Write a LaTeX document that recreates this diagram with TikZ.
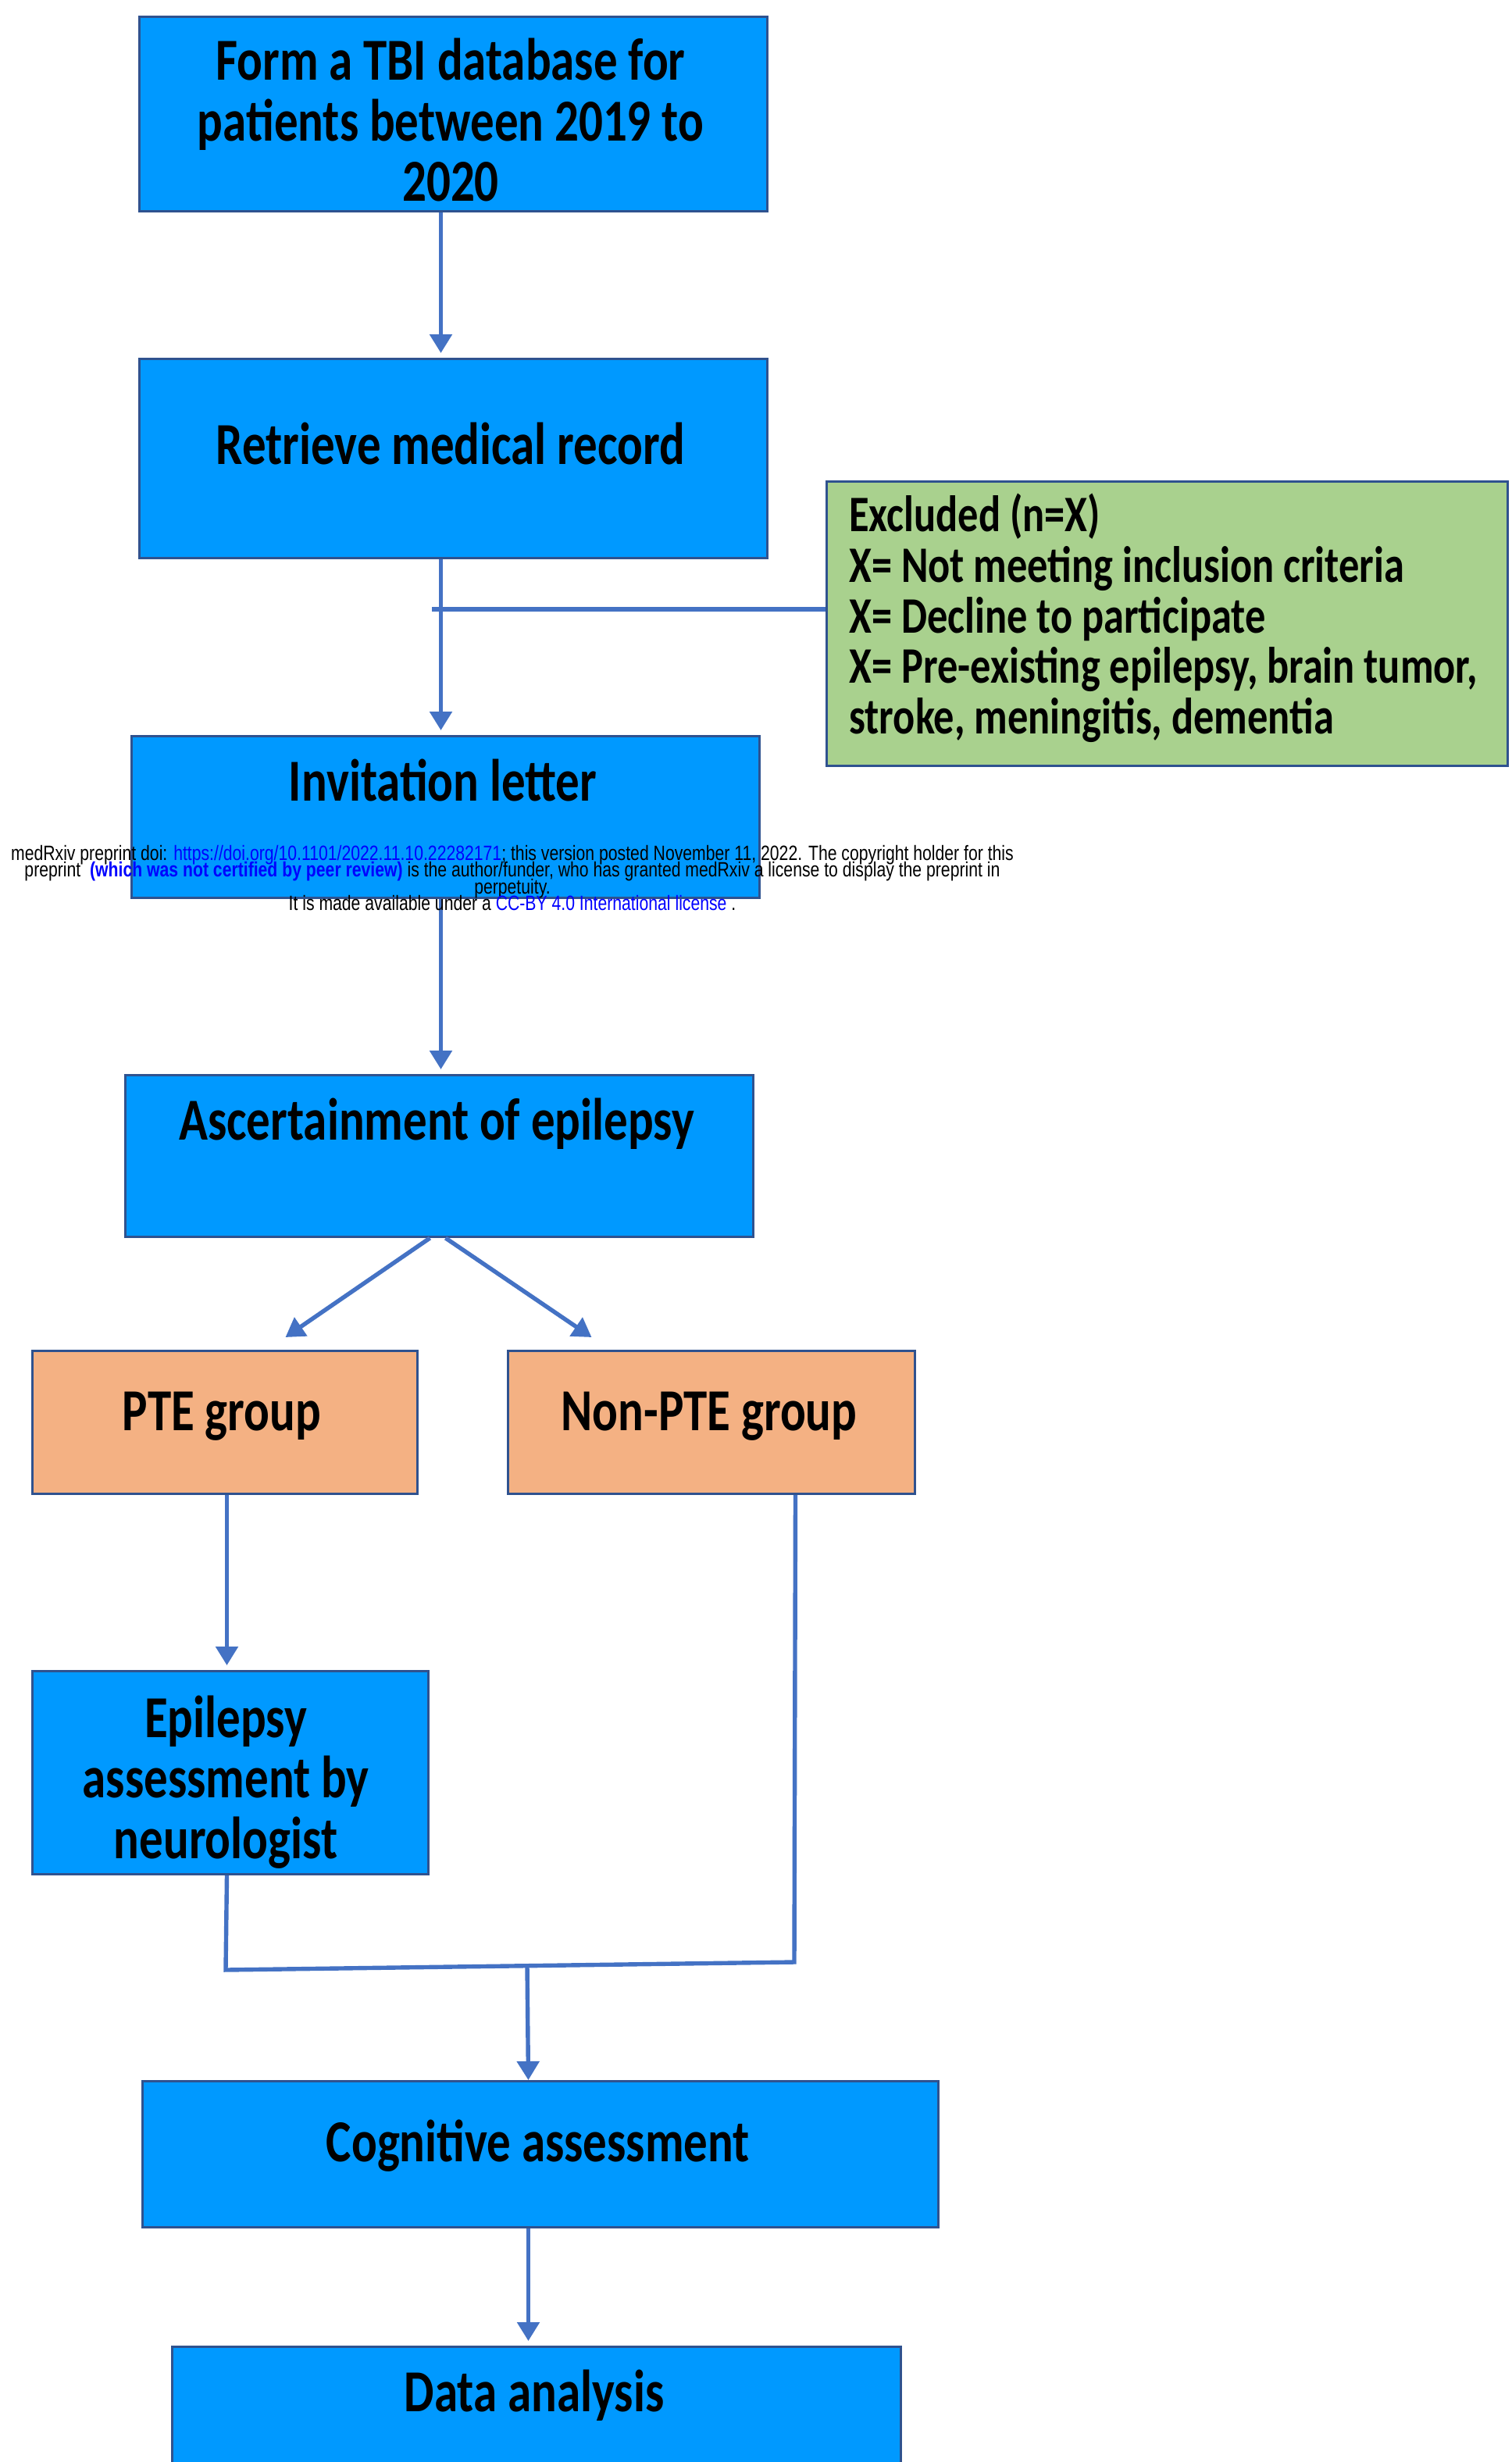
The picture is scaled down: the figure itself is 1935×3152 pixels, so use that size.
\documentclass[tikz,border=0pt]{standalone}
\usepackage{fontspec}
\setmainfont{Carlito}
\newfontfamily\hdrfont{Liberation Sans}
\usetikzlibrary{arrows.meta}
\definecolor{boxblue}{RGB}{0,153,255}
\definecolor{edgecol}{RGB}{47,82,143}
\definecolor{conncol}{RGB}{68,114,196}
\definecolor{exgreen}{RGB}{169,209,142}
\definecolor{grporange}{RGB}{244,177,131}
\definecolor{linkcol}{RGB}{0,0,255}
\newcommand{\vstretch}[1]{\scalebox{1}[1.25]{#1}}
\begin{document}
\begin{tikzpicture}[x=0.5pt,y=-0.5pt,
  boxbase/.style={draw=edgecol, line width=1.5pt, anchor=north west, inner sep=0pt},
  bluebox/.style={boxbase, fill=boxblue},
  greenbox/.style={boxbase, fill=exgreen},
  orangebox/.style={boxbase, fill=grporange},
  boxtext/.style={inner sep=0pt, font=\bfseries\fontsize{30.5}{31}\selectfont},
  extext/.style={inner sep=0pt, anchor=west, font=\bfseries\fontsize{26.2}{24.7}\selectfont},
  conn/.style={draw=conncol, line width=2.7pt},
  arr/.style={conn, -{Triangle[width=14pt,length=12pt]}}]
\clip (0,0) rectangle (1935,3152);
\fill[white] (0,0) rectangle (1935,3152);

% boxes
\node[bluebox, minimum width=402pt, minimum height=124.5pt] (b1) at (177,20) {};
\node[bluebox, minimum width=402pt, minimum height=127.5pt] (b2) at (177,458) {};
\node[greenbox, minimum width=436pt, minimum height=182pt] (ex) at (1057,615) {};
\node[bluebox, minimum width=402pt, minimum height=103.5pt] (b3) at (167,941) {};
\node[bluebox, minimum width=402pt, minimum height=103.5pt] (b4) at (159,1375) {};
\node[orangebox, minimum width=246.5pt, minimum height=91.5pt] (pte) at (40,1728) {};
\node[orangebox, minimum width=260.5pt, minimum height=91.5pt] (np) at (649,1728) {};
\node[bluebox, minimum width=253.5pt, minimum height=130pt] (epi) at (40,2138) {};
\node[bluebox, minimum width=509.5pt, minimum height=93.5pt] (cog) at (181,2663) {};
\node[bluebox, minimum width=466.5pt, minimum height=83.5pt] (data) at (219,3003) {};

% texts
\node[boxtext] (t1) at (577,165) {\vstretch{\begin{tabular}{@{}c@{}}Form a TBI database for\\patients between 2019 to\\2020\end{tabular}}};
\node[boxtext] (t2) at (577,568) {\vstretch{Retrieve medical record}};
\node[extext] (tex) at (1087,795) {\vstretch{\begin{tabular}{@{}l@{}}Excluded (n=X)\\X= Not meeting inclusion criteria\\X= Decline to participate\\X= Pre-existing epilepsy, brain tumor,\\stroke, meningitis, dementia\end{tabular}}};
\node[boxtext] (t3) at (567,999) {\vstretch{Invitation letter}};
\node[boxtext] (t4) at (559,1439) {\vstretch{Ascertainment of epilepsy}};
\node[boxtext] (tpte) at (284,1813) {\vstretch{PTE group}};
\node[boxtext] (tnp) at (908,1813) {\vstretch{Non-PTE group}};
\node[boxtext] (tepi) at (289,2286) {\vstretch{\begin{tabular}{@{}c@{}}Epilepsy\\assessment by\\neurologist\end{tabular}}};
\node[boxtext] (tcog) at (689,2747) {\vstretch{Cognitive assessment}};
\node[boxtext] (tdata) at (684,3067) {\vstretch{Data analysis}};

% connectors
\coordinate (j1) at (553,780);
\coordinate (j2) at (289,2522);
\coordinate (j3) at (1017,2512);
\coordinate (j4) at (675,2517);
\draw[arr] ([xshift=-8pt]b1.south) -- ([xshift=-8pt,yshift=3pt]b2.north);
\draw[arr] ([xshift=-8pt]b2.south) -- ([xshift=-3pt,yshift=3pt]b3.north);
\draw[conn] (ex.west |- j1) -- (j1);
\draw[arr] ([xshift=-3pt]b3.south) -- ([xshift=1pt,yshift=3pt]b4.north);
\draw[arr] ([xshift=-6pt]b4.south) -- ([xshift=38.75pt,yshift=8pt]pte.north);
\draw[arr] ([xshift=4pt]b4.south) -- ([xshift=-76.75pt,yshift=8pt]np.north);
\draw[arr] ([xshift=1.25pt]pte.south) -- ([xshift=-2.25pt,yshift=3pt]epi.north);
\draw[conn] ([xshift=-2.25pt]epi.south) -- (j2) -- (j3) -- ([xshift=53.75pt]np.south);
\draw[arr] (j4) -- ([xshift=-7.75pt]cog.north);
\draw[arr] ([xshift=-7.75pt]cog.south) -- ([xshift=-5.25pt,yshift=3pt]data.north);

% header overlay
\node[inner sep=0pt, font=\hdrfont] (hdr) at (656,1124) {\vstretch{\parbox{660pt}{\centering\fontsize{10.6}{8.6}\selectfont\lineskiplimit=-100pt\lineskip=0pt
medRxiv preprint doi: \textcolor{linkcol}{https://doi.org/10.1101/2022.11.10.22282171}; this version posted November 11, 2022. The copyright holder for this\\preprint \ \textcolor{linkcol}{\bfseries (which was not certified by peer review)} is the author/funder, who has granted medRxiv a license to display the preprint in\\perpetuity.\\It is made available under a \textcolor{linkcol}{CC-BY 4.0 International license} .}}};
\end{tikzpicture}
\end{document}
